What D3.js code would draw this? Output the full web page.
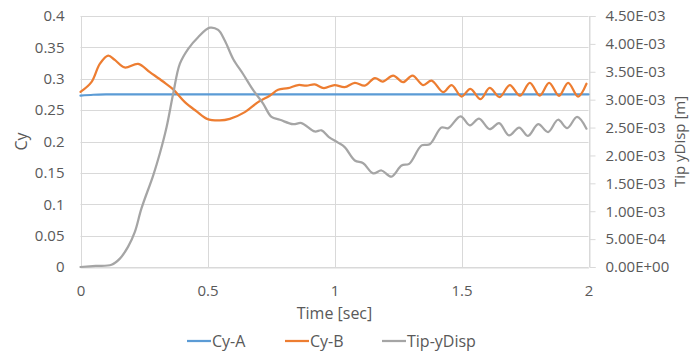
<!DOCTYPE html>
<html><head><meta charset="utf-8">
<script src="https://cdn.jsdelivr.net/npm/d3@7"></script>
<style>html,body{margin:0;padding:0;background:#fff;} svg{display:block;}</style>
</head><body>
<svg id="c" width="690" height="355"></svg>
<script>
// ---- data ----
const xTicks = [0, 0.5, 1, 1.5, 2];
const yLeftTicks = [0, 0.05, 0.1, 0.15, 0.2, 0.25, 0.3, 0.35, 0.4];
const yRightTicks = [0, 0.0005, 0.001, 0.0015, 0.002, 0.0025, 0.003, 0.0035, 0.004, 0.0045];
const yRightLabels = ["0.00E+00","5.00E-04","1.00E-03","1.50E-03","2.00E-03","2.50E-03","3.00E-03","3.50E-03","4.00E-03","4.50E-03"];
const seriesNames = ["Cy-A", "Cy-B", "Tip-yDisp"];

const cyA_t = [0, 0.05, 0.1, 0.5, 1, 1.5, 2];
const cyA_v = [0.273, 0.2745, 0.275, 0.275, 0.275, 0.275, 0.275];

const cyB_t = [0, 0.043, 0.076, 0.109, 0.135, 0.174, 0.227, 0.273, 0.325, 0.365, 0.411, 0.457, 0.498, 0.548, 0.588, 0.647, 0.699, 0.745, 0.778, 0.817, 0.857, 0.89, 0.922, 0.958, 1.0, 1.04, 1.08, 1.119, 1.159, 1.19, 1.231, 1.27, 1.307, 1.349, 1.382, 1.428, 1.461, 1.5, 1.535, 1.575, 1.611, 1.65, 1.69, 1.73, 1.769, 1.808, 1.845, 1.884, 1.92, 1.959, 1.992];
const cyB_v = [0.279, 0.2946, 0.3238, 0.337, 0.330, 0.318, 0.3238, 0.3105, 0.2956, 0.283, 0.2627, 0.248, 0.236, 0.2335, 0.236, 0.2468, 0.2627, 0.273, 0.2824, 0.285, 0.290, 0.289, 0.291, 0.2852, 0.290, 0.2866, 0.2935, 0.289, 0.301, 0.2956, 0.305, 0.2946, 0.305, 0.290, 0.297, 0.2786, 0.290, 0.2717, 0.284, 0.2675, 0.2855, 0.2707, 0.290, 0.273, 0.2935, 0.273, 0.2935, 0.2728, 0.2935, 0.2717, 0.292];

const tip_t = [0, 0.06, 0.122, 0.155, 0.187, 0.214, 0.24, 0.286, 0.312, 0.339, 0.365, 0.391, 0.424, 0.463, 0.509, 0.542, 0.568, 0.601, 0.64, 0.68, 0.719, 0.752, 0.785, 0.837, 0.87, 0.922, 0.949, 0.978, 1.014, 1.04, 1.08, 1.113, 1.152, 1.185, 1.224, 1.264, 1.294, 1.343, 1.375, 1.421, 1.448, 1.496, 1.533, 1.569, 1.611, 1.648, 1.687, 1.727, 1.762, 1.802, 1.841, 1.88, 1.916, 1.955, 1.992];
const tip_v = [0, 0.00002, 0.00004, 0.00015, 0.00036, 0.00063, 0.00105, 0.00164, 0.00203, 0.00251, 0.00311, 0.00364, 0.00391, 0.00412, 0.00429, 0.00425, 0.00406, 0.00373, 0.00346, 0.00317, 0.00293, 0.00269, 0.00264, 0.00256, 0.00258, 0.00243, 0.00245, 0.00233, 0.00223, 0.00215, 0.00191, 0.00186, 0.00168, 0.00173, 0.00162, 0.00182, 0.00185, 0.00218, 0.00220, 0.00250, 0.00249, 0.00270, 0.00254, 0.00266, 0.00247, 0.00258, 0.00236, 0.00250, 0.00235, 0.00256, 0.00242, 0.00264, 0.00249, 0.00269, 0.00248];

// ---- layout ----
const W = 690, H = 355;
const m = {left: 80.5, right: 588.5, top: 16, bottom: 267};
const font = "'Open Sans', sans-serif";
const txt = "#595959", grid = "#d9d9d9";
const colors = ["#5B9BD5", "#ED7D31", "#A5A5A5"];

const svg = d3.select("#c");
const x = d3.scaleLinear().domain([0, 2]).range([m.left, m.right]);
const yL = d3.scaleLinear().domain([0, 0.4]).range([m.bottom, m.top]);
const yR = d3.scaleLinear().domain([0, 0.0045]).range([m.bottom, m.top]);

// horizontal gridlines
svg.append("g").selectAll("line").data(yLeftTicks).join("line")
  .attr("x1", m.left).attr("x2", m.right)
  .attr("y1", d => Math.round(yL(d)) + 0.5).attr("y2", d => Math.round(yL(d)) + 0.5)
  .attr("stroke", grid).attr("stroke-width", 1);
// vertical gridlines
svg.append("g").selectAll("line").data(xTicks).join("line")
  .attr("y1", m.top).attr("y2", m.bottom)
  .attr("x1", d => Math.round(x(d)) + 0.5).attr("x2", d => Math.round(x(d)) + 0.5)
  .attr("stroke", grid).attr("stroke-width", 1);

// bottom axis
const xAxis = d3.axisBottom(x).tickValues(xTicks).tickSize(0).tickPadding(18)
  .tickFormat(d => d3.format("")(d));
const gx = svg.append("g").attr("transform", `translate(0,${Math.round(m.bottom)+0.5})`).call(xAxis);
gx.select(".domain").attr("stroke", grid);
gx.selectAll("text").attr("fill", txt).style("font-family", font).style("font-size", "15px");

// left axis
const yAxisL = d3.axisLeft(yL).tickValues(yLeftTicks).tickSize(0).tickPadding(16)
  .tickFormat(d => d3.format("")(+d.toFixed(2)));
const gyl = svg.append("g").attr("transform", `translate(${m.left},0)`).call(yAxisL);
gyl.select(".domain").remove();
gyl.selectAll("text").attr("fill", txt).style("font-family", font).style("font-size", "15px");

// right axis
const yAxisR = d3.axisRight(yR).tickValues(yRightTicks).tickSize(6).tickPadding(10)
  .tickFormat((d, i) => yRightLabels[i]);
const gyr = svg.append("g").attr("transform", `translate(${Math.round(m.right)+0.5},0)`).call(yAxisR);
gyr.select(".domain").attr("stroke", grid);
gyr.selectAll(".tick line").attr("stroke", grid);
gyr.selectAll("text").attr("fill", txt).style("font-family", font).style("font-size", "15px");

// lines
const line = (sx, sy) => d3.line().x(d => sx(d[0])).y(d => sy(d[1])).curve(d3.curveCatmullRom.alpha(0.5));
const g = svg.append("g").attr("fill", "none").attr("stroke-width", 2.25).attr("stroke-linejoin", "round").attr("stroke-linecap", "round");
g.append("path").attr("d", line(x, yL)(d3.zip(cyA_t, cyA_v))).attr("stroke", colors[0]);
g.append("path").attr("d", line(x, yL)(d3.zip(cyB_t, cyB_v))).attr("stroke", colors[1]);
g.append("path").attr("d", line(x, yR)(d3.zip(tip_t, tip_v))).attr("stroke", colors[2]);

// titles
svg.append("text").attr("transform", `translate(27,${(m.top+m.bottom)/2}) rotate(-90)`)
  .attr("text-anchor", "middle").attr("fill", txt).style("font-family", font).style("font-size", "16px").text("Cy");
svg.append("text").attr("transform", `translate(685,${(m.top+m.bottom)/2}) rotate(-90)`)
  .attr("text-anchor", "middle").attr("fill", txt).style("font-family", font).style("font-size", "15px").text("Tip yDisp [m]");
svg.append("text").attr("x", (m.left+m.right)/2).attr("y", 319)
  .attr("text-anchor", "middle").attr("fill", txt).style("font-family", font).style("font-size", "16px").text("Time [sec]");

// legend
const legX = [187, 285, 382];
const lg = svg.append("g").selectAll("g").data(seriesNames).join("g")
  .attr("transform", (d, i) => `translate(${legX[i]},341)`);
lg.append("line").attr("x1", 0).attr("x2", 24).attr("y1", 0).attr("y2", 0)
  .attr("stroke", (d, i) => colors[i]).attr("stroke-width", 2.25);
lg.append("text").attr("x", 25).attr("y", 5.5).attr("fill", txt)
  .style("font-family", font).style("font-size", "16px").text(d => d);
</script>
</body></html>
